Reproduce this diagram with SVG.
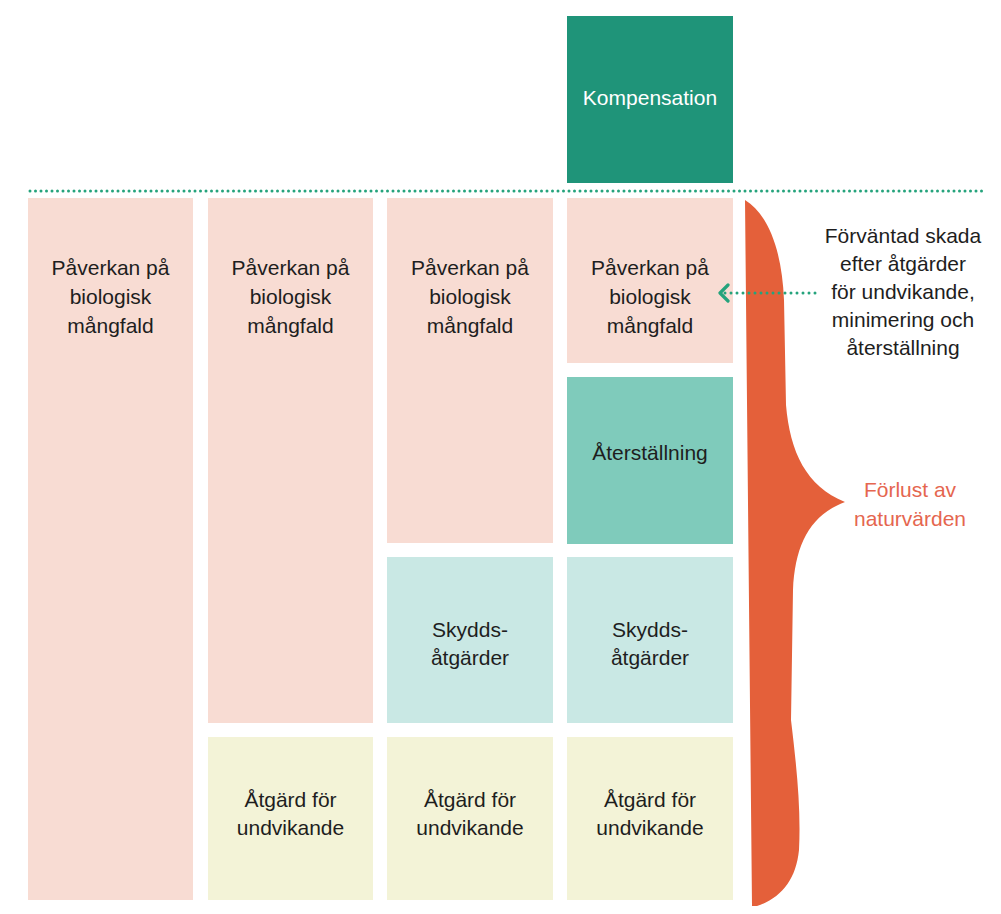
<svg xmlns="http://www.w3.org/2000/svg" width="1001" height="914" viewBox="0 0 1001 914">
  <style>
    .lbl { font-family: "Liberation Sans", Arial, sans-serif; font-size: 21px; fill: #1e1e1e; text-anchor: middle; }
    .light { fill: #ffffff; }
    .loss { fill: #e5664f; }
    .impact { fill: #f8dcd3; }
    .restore { fill: #7fcbbb; }
    .protect { fill: #c9e8e4; }
    .avoid { fill: #f3f3d7; }
    .offset { fill: #1f9479; }
    .dots { stroke: #25a37c; stroke-width: 3; stroke-linecap: round; fill: none; }
  </style>
  <defs>
    <marker id="chevron" viewBox="0 0 12 20" refX="10" refY="10" markerWidth="12" markerHeight="20" markerUnits="userSpaceOnUse" orient="auto">
      <path d="M2 2 L10 10 L2 18" fill="none" stroke="#25a37c" stroke-width="3.2" stroke-linecap="round" stroke-linejoin="round"/>
    </marker>
  </defs>

  <rect width="1001" height="914" fill="#ffffff"/>

  <!-- Compensation, above the line -->
  <g id="kompensation">
    <rect class="offset" x="567" y="16" width="166" height="167"/>
    <text class="lbl light" x="650" y="105">Kompensation</text>
  </g>

  <!-- Column 1 -->
  <g id="col1-paverkan">
    <rect class="impact" x="28" y="198" width="165" height="702"/>
    <text class="lbl" x="110.5" y="275">Påverkan på</text>
    <text class="lbl" x="110.5" y="304">biologisk</text>
    <text class="lbl" x="110.5" y="333">mångfald</text>
  </g>

  <!-- Column 2 -->
  <g id="col2-paverkan">
    <rect class="impact" x="208" y="198" width="165" height="525"/>
    <text class="lbl" x="290.5" y="275">Påverkan på</text>
    <text class="lbl" x="290.5" y="304">biologisk</text>
    <text class="lbl" x="290.5" y="333">mångfald</text>
  </g>
  <g id="col2-undvikande">
    <rect class="avoid" x="208" y="737" width="165" height="163"/>
    <text class="lbl" x="290.5" y="807">Åtgärd för</text>
    <text class="lbl" x="290.5" y="835">undvikande</text>
  </g>

  <!-- Column 3 -->
  <g id="col3-paverkan">
    <rect class="impact" x="387" y="198" width="166" height="345"/>
    <text class="lbl" x="470" y="275">Påverkan på</text>
    <text class="lbl" x="470" y="304">biologisk</text>
    <text class="lbl" x="470" y="333">mångfald</text>
  </g>
  <g id="col3-skydd">
    <rect class="protect" x="387" y="557" width="166" height="166"/>
    <text class="lbl" x="470" y="637">Skydds-</text>
    <text class="lbl" x="470" y="665">åtgärder</text>
  </g>
  <g id="col3-undvikande">
    <rect class="avoid" x="387" y="737" width="166" height="163"/>
    <text class="lbl" x="470" y="807">Åtgärd för</text>
    <text class="lbl" x="470" y="835">undvikande</text>
  </g>

  <!-- Column 4 -->
  <g id="col4-paverkan">
    <rect class="impact" x="567" y="198" width="166" height="165"/>
    <text class="lbl" x="650" y="275">Påverkan på</text>
    <text class="lbl" x="650" y="304">biologisk</text>
    <text class="lbl" x="650" y="333">mångfald</text>
  </g>
  <g id="col4-aterstallning">
    <rect class="restore" x="567" y="377" width="166" height="167"/>
    <text class="lbl" x="650" y="460">Återställning</text>
  </g>
  <g id="col4-skydd">
    <rect class="protect" x="567" y="557" width="166" height="166"/>
    <text class="lbl" x="650" y="637">Skydds-</text>
    <text class="lbl" x="650" y="665">åtgärder</text>
  </g>
  <g id="col4-undvikande">
    <rect class="avoid" x="567" y="737" width="166" height="163"/>
    <text class="lbl" x="650" y="807">Åtgärd för</text>
    <text class="lbl" x="650" y="835">undvikande</text>
  </g>

  <!-- Loss brace -->
  <g id="forlust">
    <path fill="#e4603a" d="M745 200 C768 214 782 250 784 300 L786 405 C790 452 806 486 845 502 C810 515 795 545 793 590 L791 720 C797 770 801 810 799 850 C796 880 781 898 757 906 L752 906 Z"/>
    <text class="lbl loss" x="910" y="497">Förlust av</text>
    <text class="lbl loss" x="910" y="526">naturvärden</text>
  </g>

  <!-- Residual damage note -->
  <g id="forvantad-skada">
    <text class="lbl" x="903" y="243">Förväntad skada</text>
    <text class="lbl" x="903" y="271">efter åtgärder</text>
    <text class="lbl" x="903" y="299">för undvikande,</text>
    <text class="lbl" x="903" y="327">minimering och</text>
    <text class="lbl" x="903" y="355">återställning</text>
  </g>

  <!-- Connectors -->
  <g id="connectors">
    <line class="dots" x1="30" y1="191" x2="985" y2="191" stroke-dasharray="0 5.5"/>
    <line class="dots" x1="815" y1="293" x2="720" y2="293" stroke-dasharray="0 6" stroke-width="2.8" marker-end="url(#chevron)"/>
  </g>
</svg>
